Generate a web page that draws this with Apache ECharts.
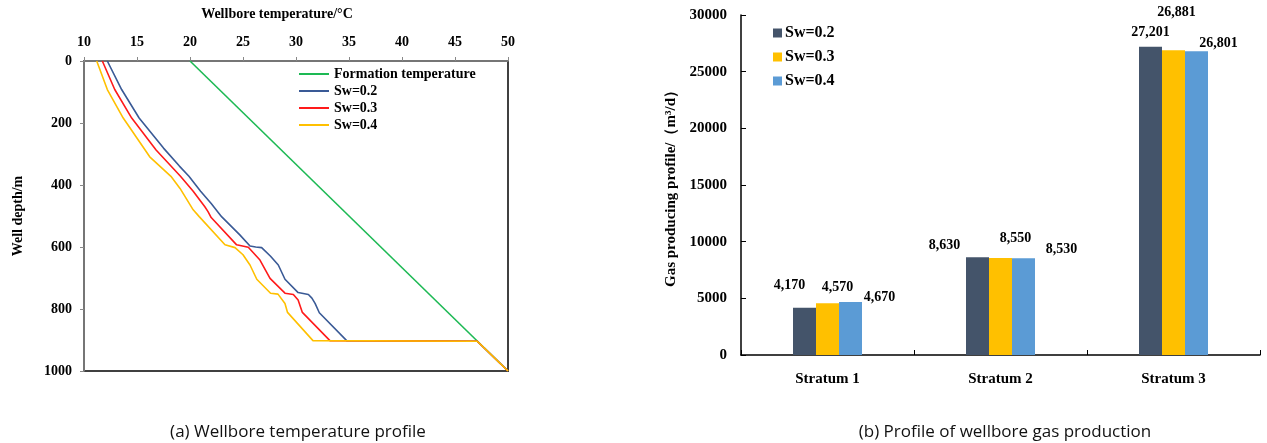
<!DOCTYPE html>
<html>
<head>
<meta charset="utf-8">
<script src="https://cdn.jsdelivr.net/npm/echarts@6/dist/echarts.min.js"></script>
<style>
html,body{margin:0;padding:0;background:#fff;}
#c{width:1267px;height:443px;}
</style>
</head>
<body>
<div id="c"></div>
<script>
// ---- Left chart data: [temperature °C, depth m] ----
const formationTemp = [[20,0],[50,1000]];
const sw02Temp = [[12.2,0],[13.55,92],[15.2,184],[17.5,281],[19.0,339],[19.9,372],[21.0,420],[22.0,460],[22.7,490],[23.0,503],[24.7,561],[25.66,597],[26.2,600],[26.76,602],[27.6,630],[28.33,658],[28.96,704],[30.2,747],[31.17,753],[31.5,765],[31.8,782],[32.2,812],[34.78,902],[47.1,904],[50,1000]];
const sw03Temp = [[11.73,0],[12.9,92],[14.5,184],[16.8,287],[19.1,372],[20.3,420],[21.4,470],[21.7,486],[22.0,505],[24.4,593],[24.56,597],[25.5,601],[26.6,642],[27.55,701],[28.96,749],[29.75,753],[30.2,771],[30.6,811],[33.2,902],[47.1,904],[50,1000]];
const sw04Temp = [[11.2,0],[12.2,92],[13.7,184],[16.2,309],[18.2,372],[19.06,411],[20.3,480],[20.87,502],[23.3,593],[24.25,602],[25.0,625],[25.66,658],[26.3,704],[27.6,749],[28.3,752],[28.96,782],[29.2,811],[31.6,902],[47.1,904],[50,1000]];

// ---- Right chart data ----
const strata = ['Stratum 1','Stratum 2','Stratum 3'];
const gasSw02 = [4170, 8630, 27201];
const gasSw03 = [4570, 8550, 26881];
const gasSw04 = [4670, 8530, 26801];

// label placement tweaks (styling, not data)
const offSw02 = [[-15,-10],[-33,0],[0,-2]];
const offSw03 = [[10,-4],[15,-8],[3,-26]];
const offSw04 = [[29,7],[38,3],[22,4]];

const serif = 'Liberation Serif';
const lblStyle = {fontFamily: serif, fontWeight: 'bold', fontSize: 14, color: '#000'};
const fmt = v => Number(v).toLocaleString('en-US');
const plain = v => String(v);

function barSeries(name, vals, offs, color){
  return {
    name: name + ' ', type: 'bar', xAxisIndex: 1, yAxisIndex: 1,
    barWidth: 23, barGap: '0%',
    itemStyle: {color: color},
    data: vals.map((v,i) => ({value: v, label: {offset: offs[i]}})),
    label: Object.assign({show: true, position: 'top', distance: 5,
      formatter: p => fmt(p.value)}, lblStyle)
  };
}
function lineSeries(name, data, color){
  return {name: name, type: 'line', xAxisIndex: 0, yAxisIndex: 0, data: data,
    symbol: 'none', smooth: false,
    lineStyle: {color: color, width: 1.6}, itemStyle: {color: color}};
}

const chart = echarts.init(document.getElementById('c'));
chart.setOption({
  animation: false,
  backgroundColor: '#fff',
  grid: [
    {left: 84, right: 759, top: 61, bottom: 72, show: true, borderColor: '#404040', borderWidth: 2, backgroundColor: 'transparent'},
    {left: 741, right: 7, top: 15, bottom: 88}
  ],
  xAxis: [
    {type: 'value', gridIndex: 0, position: 'top', min: 10, max: 50, interval: 5,
     name: 'Wellbore temperature/°C', nameLocation: 'middle', nameGap: 40,
     nameTextStyle: {fontFamily: serif, fontWeight: 'bold', fontSize: 14, color: '#000', padding: [0, 38, 0, 0]},
     axisLine: {show: true, lineStyle: {color: '#888', width: 1.5}},
     axisTick: {show: true, inside: false, length: 4, lineStyle: {color: '#888'}},
     axisLabel: {margin: 12, fontFamily: serif, fontWeight: 'bold', fontSize: 14, color: '#000', formatter: plain},
     splitLine: {show: false}},
    {type: 'category', gridIndex: 1, data: strata,
     axisLine: {show: true, lineStyle: {color: '#000', width: 1.5}},
     axisTick: {show: true, inside: true, length: 5, lineStyle: {color: '#000'}},
     axisLabel: {margin: 17, fontFamily: serif, fontWeight: 'bold', fontSize: 15, color: '#000'}}
  ],
  yAxis: [
    {type: 'value', gridIndex: 0, inverse: true, min: 0, max: 1000, interval: 200,
     name: 'Well depth/m', nameLocation: 'middle', nameGap: 59, nameRotate: 90,
     nameTextStyle: {fontFamily: serif, fontWeight: 'bold', fontSize: 14, color: '#000'},
     axisLine: {show: true, lineStyle: {color: '#888', width: 1.5}},
     axisTick: {show: true, inside: false, length: 4, lineStyle: {color: '#888'}},
     axisLabel: {margin: 12, fontFamily: serif, fontWeight: 'bold', fontSize: 14, color: '#000', formatter: plain},
     splitLine: {show: false}},
    {type: 'value', gridIndex: 1, min: 0, max: 30000, interval: 5000,
     name: 'Gas producing profile/（m³/d）', nameLocation: 'middle', nameGap: 62, nameRotate: 90,
     nameTextStyle: {fontFamily: serif, fontWeight: 'bold', fontSize: 15, color: '#000'},
     axisLine: {show: true, lineStyle: {color: '#000', width: 1.5}},
     axisTick: {show: true, inside: true, length: 5, lineStyle: {color: '#000'}},
     axisLabel: {margin: 14, fontFamily: serif, fontWeight: 'bold', fontSize: 15, color: '#000', formatter: plain},
     splitLine: {show: false}}
  ],
  legend: [
    {left: 293, top: 62, orient: 'vertical', itemGap: 3, itemWidth: 30, itemHeight: 14,
     itemStyle: {opacity: 0},
     data: ['Formation temperature','Sw=0.2','Sw=0.3','Sw=0.4'],
     textStyle: {fontFamily: serif, fontWeight: 'bold', fontSize: 14, color: '#000'}},
    {left: 768, top: 19, orient: 'vertical', itemGap: 6, itemWidth: 9, itemHeight: 9, icon: 'rect',
     data: ['Sw=0.2 ','Sw=0.3 ','Sw=0.4 '], formatter: n => n.trim(),
     textStyle: {fontFamily: serif, fontWeight: 'bold', fontSize: 16, color: '#000', lineHeight: 18, padding: [0, 0, 0, -2]}}
  ],
  title: [
    {text: '(a) Wellbore temperature profile', left: 293, top: 419, textAlign: 'center',
     textStyle: {fontFamily: 'Open Sans', fontWeight: 'normal', fontSize: 17, color: '#111'}},
    {text: '(b) Profile of wellbore gas production', left: 1000, top: 419, textAlign: 'center',
     textStyle: {fontFamily: 'Open Sans', fontWeight: 'normal', fontSize: 17, color: '#111'}}
  ],
  series: [
    lineSeries('Formation temperature', formationTemp, '#1DB954'),
    lineSeries('Sw=0.2', sw02Temp, '#3A5A96'),
    lineSeries('Sw=0.3', sw03Temp, '#FF1A1A'),
    lineSeries('Sw=0.4', sw04Temp, '#FFC000'),
    barSeries('Sw=0.2', gasSw02, offSw02, '#44546A'),
    barSeries('Sw=0.3', gasSw03, offSw03, '#FFC000'),
    barSeries('Sw=0.4', gasSw04, offSw04, '#5B9BD5')
  ]
});
</script>
</body>
</html>
